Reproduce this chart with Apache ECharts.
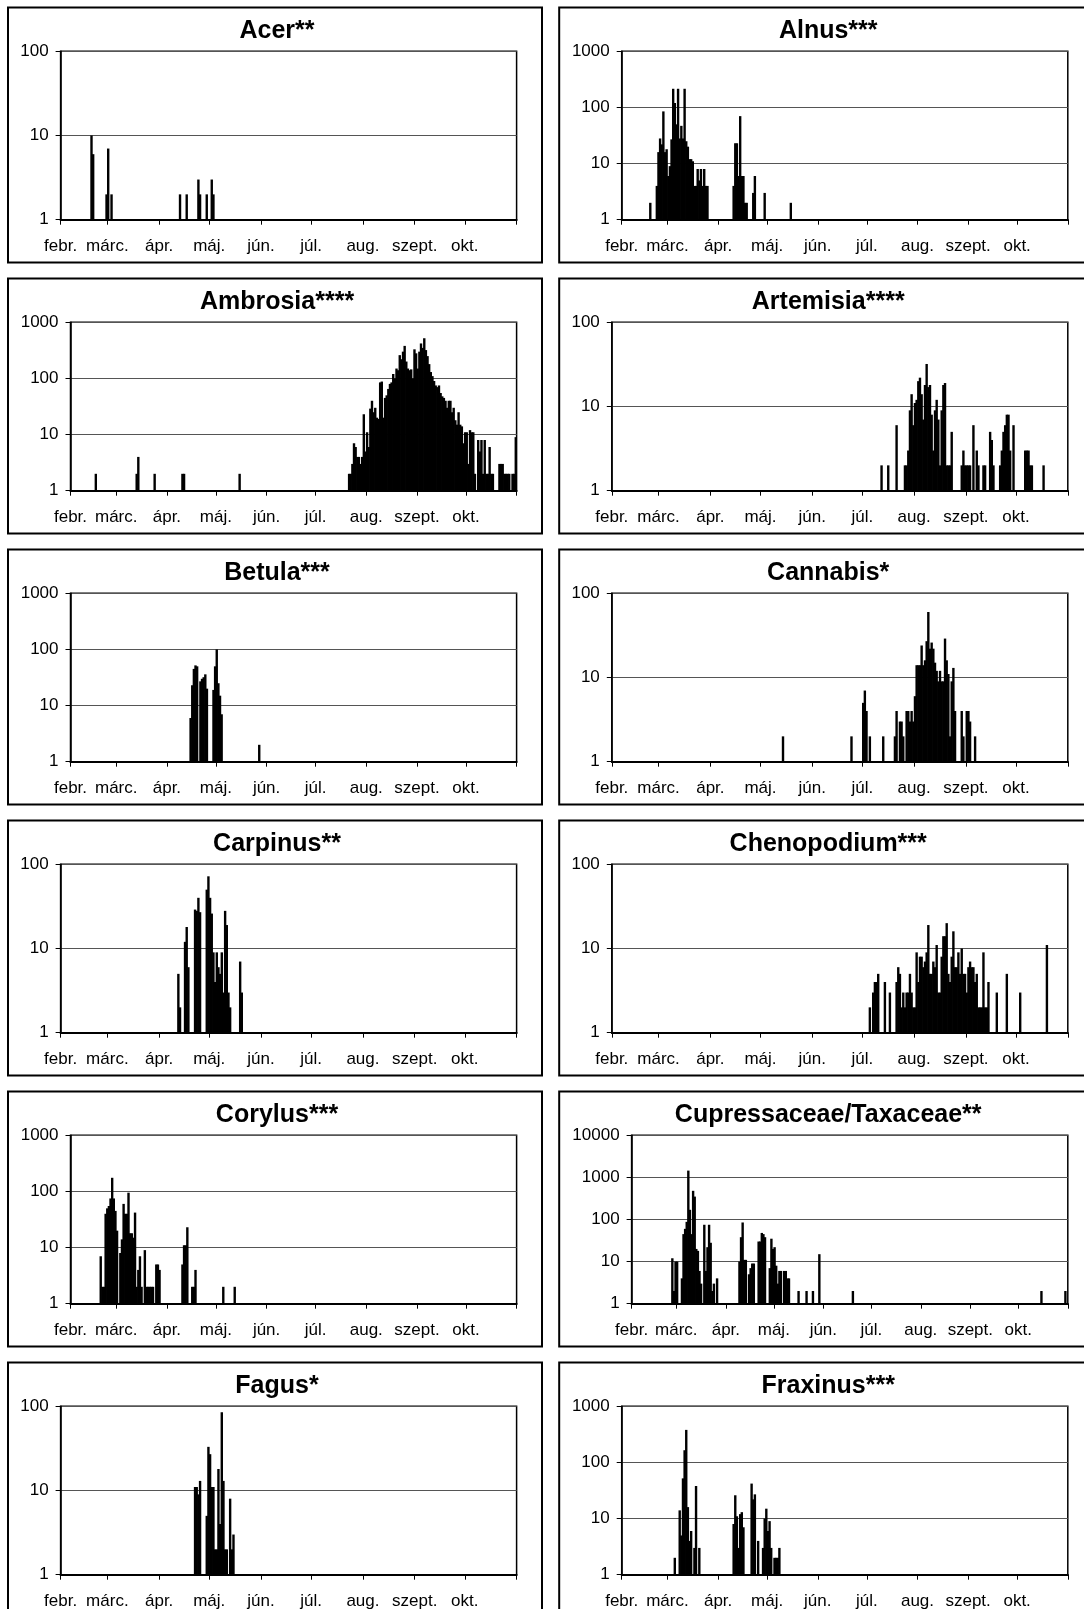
<!DOCTYPE html>
<html><head><meta charset="utf-8">
<script src="https://cdn.jsdelivr.net/npm/echarts@6/dist/echarts.min.js"></script>
<style>html,body{margin:0;padding:0;background:#fff}#c{width:1084px;height:1609px}</style>
</head><body><div id="c"></div>
<script>
// Days counted from 1 Feb (day 0) to 31 Oct (day 272)
const monthLabels = ['febr.', 'márc.', 'ápr.', 'máj.', 'jún.', 'júl.', 'aug.', 'szept.', 'okt.'];
const monthStarts = [0, 28, 59, 89, 120, 150, 181, 212, 242, 273];

const titles = ['Acer**', 'Alnus***', 'Ambrosia****', 'Artemisia****', 'Betula***', 'Cannabis*',
  'Carpinus**', 'Chenopodium***', 'Corylus***', 'Cupressaceae/Taxaceae**', 'Fagus*', 'Fraxinus***'];
const yMax = [100, 1000, 1000, 100, 1000, 100, 100, 100, 1000, 10000, 100, 1000];

// runs of daily counts: [first day, [counts...]]
const acer = [[18, [10, 6]], [27, [2, 7, 0, 2]], [71, [2]], [75, [2]], [82, [3, 2]], [87, [2]], [90, [3, 2]]];
const alnus = [[17, [2]],
  [21, [4, 16, 28, 22, 85, 16, 18, 6, 9, 27, 215, 120, 50, 215, 28, 47, 28, 215, 25, 20, 12, 12, 11, 4, 4, 8, 5, 8, 4, 8, 4, 4]],
  [68, [4, 23, 23, 6, 70, 6, 6, 2, 2]], [80, [3, 6]], [87, [3]], [103, [2]]];
const ambrosia = [[15, [2]], [40, [2, 4]], [51, [2]], [68, [2, 2]], [103, [2]],
  [170, [2, 2, 3, 7, 6, 4, 4, 3, 4, 23, 5, 11, 6, 29, 40, 25, 30, 20, 19, 85,
    88, 20, 45, 50, 65, 80, 85, 120, 100, 150, 140, 260, 220, 300, 380, 200, 150, 140, 145, 100,
    330, 280, 150, 300, 420, 350, 520, 320, 250, 180, 130, 110, 90, 75, 70, 75, 55, 48, 45, 40,
    30, 40, 40, 25, 30, 18, 15, 25, 15, 14, 7, 11, 11, 3, 12, 11, 11, 2, 0, 8,
    5, 8, 2, 8, 2, 2, 6, 2, 2, 0, 0, 0, 3, 3, 3, 2, 2, 2, 2, 0, 2, 2, 9]]];
const artemisia = [[161, [2]], [165, [2]], [170, [6]],
  [175, [2, 2, 3, 9, 14, 6, 11, 12, 20, 22, 14, 7, 18, 32, 17, 18, 8, 3, 9, 12, 7, 2, 9, 18, 19, 2, 2, 2, 5]],
  [209, [2, 3, 2, 2, 2, 2, 0, 6, 0, 3, 2]], [222, [2, 2]], [226, [5, 4, 2]],
  [232, [2, 3, 5, 6, 8, 8, 3, 0, 6]], [247, [3, 3, 3, 2, 2]], [258, [2]]];
const betula = [[73, [6, 23, 45, 52, 50]], [79, [27, 30, 32, 36, 20]], [87, [19, 50, 100, 25, 15, 7]], [115, [2]]];
const cannabis = [[102, [2]], [143, [2]], [150, [5, 7, 4, 0, 2]], [162, [2]],
  [169, [2, 4, 0, 3, 3, 2, 0, 4, 4, 3, 4, 3, 6, 14, 14, 14, 24, 14, 16, 27,
    60, 22, 26, 22, 15, 12, 9, 12, 9, 9, 29, 16, 11, 2, 9, 13, 4]],
  [209, [4, 2, 0, 4, 4, 3]], [217, [2]]];
const carpinus = [[70, [5, 2]], [74, [12, 18, 6]], [80, [29, 28, 40, 27]],
  [87, [50, 72, 40, 26, 9, 4, 9, 6, 5, 9, 3, 28, 19, 3, 2]], [107, [7, 3]]];
const chenopodium = [[154, [2, 0, 3, 4, 4, 5]], [163, [4]], [166, [3]],
  [170, [4, 6, 5, 2, 3, 2, 3, 3, 5, 3, 2, 2, 9, 4, 8, 8, 6, 7, 9, 19,
    5, 5, 7, 6, 11, 3, 3, 8, 14, 14, 20, 5, 4, 8, 16, 6, 6, 9, 5, 10,
    5, 5, 3, 6, 7, 6, 6, 4, 5, 2, 2, 2, 9, 2, 2, 4]],
  [230, [3]], [236, [5]], [244, [3]], [260, [11]]];
const corylus = [[18, [7, 2, 2, 40, 50, 55, 75, 175, 75, 45, 20, 0, 8, 14, 60, 40, 40, 95, 18, 18,
    15, 42, 2, 4, 7, 2, 0, 9, 2, 2, 2, 2, 2, 0, 5, 5, 4]],
  [68, [5, 11, 11, 23]], [74, [2, 2, 4]], [93, [2]], [100, [2]]];
const cupressaceae = [[25, [12, 2, 10, 10]],
  [31, [4, 45, 60, 88, 1450, 170, 45, 480, 350, 20, 18, 6, 3, 0, 75, 6, 22, 75, 28, 2, 3, 0, 4]],
  [67, [10, 38, 85, 11, 11]], [73, [5, 7, 9, 9]], [79, [30, 30, 48, 45, 38]],
  [86, [7, 35, 20, 22, 8, 3, 6, 6, 0, 6, 6, 4, 4]], [104, [2]], [109, [2]], [113, [2]], [117, [15]],
  [138, [2]], [256, [2]], [271, [2]]];
const fagus = [[80, [11, 11, 9, 13]], [87, [5, 33, 27, 11, 11, 2, 2, 18, 4, 85, 13, 2, 2, 0, 8, 2, 3]]];
const fraxinus = [[32, [2]], [35, [14, 5, 52, 165, 380, 16, 4, 6, 0, 3, 38, 0, 3]],
  [68, [8, 26, 11, 3, 12, 13, 7]], [79, [42, 22, 27, 0, 4]], [86, [3, 10, 15, 6, 9, 3, 0, 2, 2, 2, 3]]];

const taxaRuns = [acer, alnus, ambrosia, artemisia, betula, cannabis, carpinus, chenopodium, corylus, cupressaceae, fagus, fraxinus];

function toPoints(runs) {
  const pts = [];
  runs.forEach(([start, vals]) => vals.forEach((v, i) => { if (v > 0) pts.push([start + i + 0.5, v]); }));
  return pts;
}

const FONT = '"Liberation Sans", Arial, sans-serif';
const colOffset = [0, 551.2];
const plotRight = 516.6;
const axisLeft = {100: 60.6, 1000: 70.5, 10000: 80.4};
const rowStep = 271;

const grids = [], xAxes = [], yAxes = [], series = [], graphics = [];
titles.forEach((t, i) => {
  const col = i % 2, row = Math.floor(i / 2);
  const off = colOffset[col];
  graphics.push({
    type: 'rect', silent: true, z: 0,
    shape: {x: 8 + off, y: 7.5 + row * rowStep, width: 534, height: 255},
    style: {fill: 'none', stroke: '#000', lineWidth: 2}
  });
  graphics.push({
    type: 'text', silent: true, z: 10,
    x: 277 + off, y: 31.5 + row * rowStep,
    style: {text: t, fill: '#000', font: 'bold 25px ' + FONT, textAlign: 'center', textVerticalAlign: 'middle'}
  });
  grids.push({
    left: axisLeft[yMax[i]] + off,
    width: plotRight - axisLeft[yMax[i]],
    top: 51.3 + row * rowStep,
    height: 168.4,
    containLabel: false,
    outerBoundsMode: 'none',
    show: true, borderColor: '#000', borderWidth: 1.5, backgroundColor: '#fff'
  });
  xAxes.push({
    type: 'value', gridIndex: i, min: 0, max: 273,
    axisLine: {show: true, onZero: false, lineStyle: {color: '#000', width: 2}},
    axisTick: {show: true, customValues: monthStarts, length: 5, lineStyle: {color: '#000', width: 1}},
    axisLabel: {
      customValues: monthStarts.slice(0, 9), margin: 18, color: '#000', fontSize: 17, fontFamily: FONT,
      formatter: (v) => monthLabels[monthStarts.indexOf(Math.round(v))] || ''
    },
    splitLine: {show: false}
  });
  yAxes.push({
    type: 'log', logBase: 10, gridIndex: i, min: 1, max: yMax[i],
    axisLine: {show: true, lineStyle: {color: '#000', width: 1.5}},
    axisTick: {show: true, length: 5, lineStyle: {color: '#000'}},
    axisLabel: {color: '#000', fontSize: 17, fontFamily: FONT, margin: 12, formatter: (v) => String(Math.round(v))},
    splitLine: {show: true, lineStyle: {color: '#555', width: 1}}
  });
  series.push({
    type: 'bar', xAxisIndex: i, yAxisIndex: i, barWidth: 2.4,
    itemStyle: {color: '#000'}, silent: true,
    data: toPoints(taxaRuns[i])
  });
});

const chart = echarts.init(document.getElementById('c'), null, {renderer: 'canvas'});
chart.setOption({
  animation: false,
  backgroundColor: '#fff',
  grid: grids, xAxis: xAxes, yAxis: yAxes, series: series,
  graphic: graphics
});
</script>
</body></html>
